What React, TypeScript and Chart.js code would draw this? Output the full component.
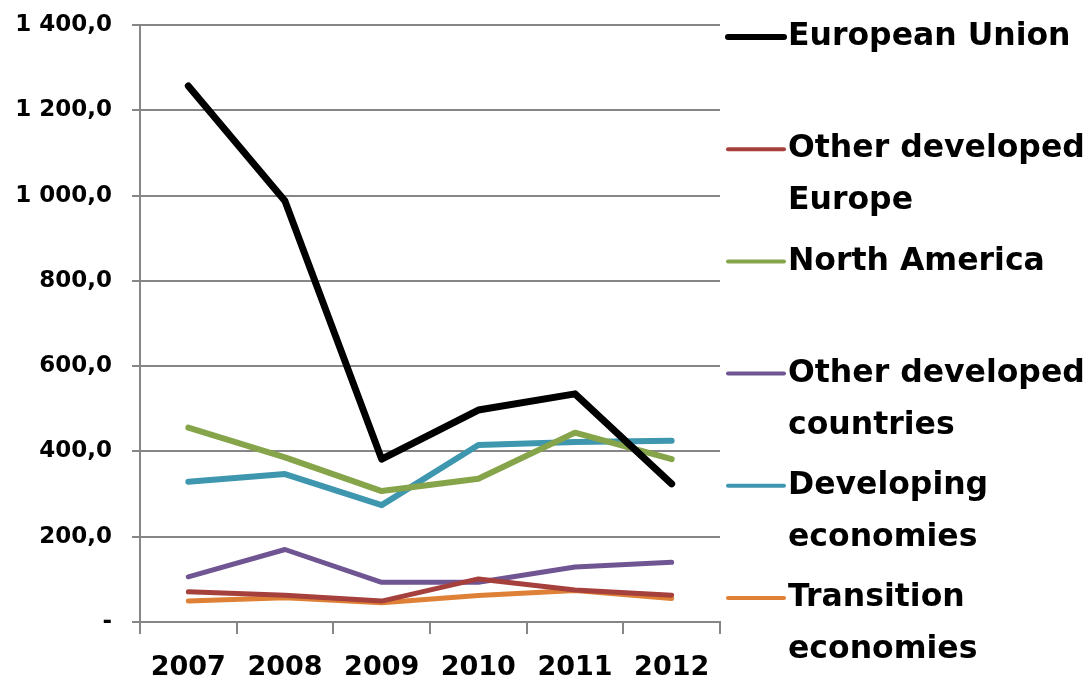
import React, { useEffect, useRef } from "react";
import { Chart, registerables } from "chart.js";

Chart.register(...registerables);

const years = ["2007", "2008", "2009", "2010", "2011", "2012"];
const europeanUnion = [1257, 987, 382, 497, 535, 324];
const otherDevelopedEurope = [71, 63, 49, 101, 75, 63];
const northAmerica = [456, 386, 307, 336, 444, 382];
const otherDevelopedCountries = [106, 170, 93, 93, 129, 140];
const developingEconomies = [329, 347, 274, 415, 422, 425];
const transitionEconomies = [49, 57, 45, 62, 74, 55];

const seriesLabels = [
  ["European Union"],
  ["Other developed", "Europe"],
  ["North America"],
  ["Other developed", "countries"],
  ["Developing", "economies"],
  ["Transition", "economies"],
];
const seriesColors = ["#000000", "#A5403D", "#86A44A", "#6F5592", "#3E97AF", "#DE8136"];
const seriesWidths = [7, 5, 6, 5, 6, 5];
const yTicks = [0, 200, 400, 600, 800, 1000, 1200, 1400];

const FONT = "'DejaVu Sans', sans-serif";

function formatTick(v: number): string {
  if (v === 0) return "-";
  const th = Math.floor(v / 1000);
  const rest = v % 1000;
  const restStr = th > 0 ? String(rest).padStart(3, "0") : String(rest);
  return (th > 0 ? th + " " : "") + restStr + ",0";
}

const legendPlugin = {
  id: "customLegend",
  afterDraw(chart: any) {
    const ctx = chart.ctx;
    ctx.save();
    const x0 = 728;
    const x1 = 784;
    const tx = 788;
    ctx.font = `bold 31.5px ${FONT}`;
    ctx.textBaseline = "middle";
    ctx.textAlign = "left";
    chart.data.datasets.forEach((ds: any, i: number) => {
      const y = 37 + i * 112.2;
      ctx.strokeStyle = ds.borderColor;
      ctx.lineWidth = i === 0 ? 6 : 4;
      ctx.lineCap = "round";
      ctx.beginPath();
      ctx.moveTo(x0, y);
      ctx.lineTo(x1, y);
      ctx.stroke();
      ctx.fillStyle = "#000";
      const lines = seriesLabels[i];
      lines.forEach((ln: string, j: number) => {
        ctx.fillText(ln, tx, y + j * 52);
      });
    });
    ctx.restore();
  },
};

export default function App() {
  const ref = useRef<HTMLCanvasElement>(null);
  useEffect(() => {
    document.body.style.margin = "0";
    const datasetsData = [
      europeanUnion,
      otherDevelopedEurope,
      northAmerica,
      otherDevelopedCountries,
      developingEconomies,
      transitionEconomies,
    ];
    const chart = new Chart(ref.current!, {
      type: "line",
      data: {
        labels: years,
        datasets: datasetsData.map((d, i) => ({
          label: seriesLabels[i].join(" "),
          data: d,
          borderColor: seriesColors[i],
          backgroundColor: seriesColors[i],
          borderWidth: seriesWidths[i],
          pointRadius: 0,
          tension: 0,
          borderJoinStyle: "round" as const,
          borderCapStyle: "round" as const,
          order: i,
        })),
      },
      options: {
        responsive: true,
        maintainAspectRatio: false,
        animation: false,
        layout: { padding: { top: 25, right: 370, left: 0, bottom: 0 } },
        plugins: {
          legend: { display: false },
          title: { display: false },
          tooltip: { enabled: false },
        },
        scales: {
          x: {
            offset: true,
            grid: {
              offset: true,
              drawOnChartArea: false,
              drawTicks: true,
              tickLength: 12,
              color: "#868686",
              lineWidth: 2,
            },
            border: { display: true, color: "#868686", width: 2 },
            ticks: {
              color: "#000",
              font: { family: FONT, weight: "bold", size: 27 },
              padding: 18,
              maxRotation: 0,
            },
            afterFit(scale: any) {
              scale.height = 59;
            },
          },
          y: {
            min: 0,
            max: 1400,
            afterBuildTicks(scale: any) {
              scale.ticks = yTicks.map((v) => ({ value: v }));
            },
            grid: {
              color: "#868686",
              lineWidth: 2,
              tickLength: 8,
            },
            border: { display: true, color: "#868686", width: 2 },
            ticks: {
              color: "#000",
              font: { family: FONT, weight: "bold", size: 23 },
              padding: 20,
              callback: (v: any) => formatTick(Number(v)),
            },
            afterFit(scale: any) {
              scale.width = 140;
              scale.paddingTop = 0;
              scale.paddingBottom = 0;
            },
          },
        },
      },
      plugins: [legendPlugin],
    });
    return () => chart.destroy();
  }, []);
  return (
    <div style={{ width: 1090, height: 681, position: "relative" }}>
      <canvas ref={ref} />
    </div>
  );
}
